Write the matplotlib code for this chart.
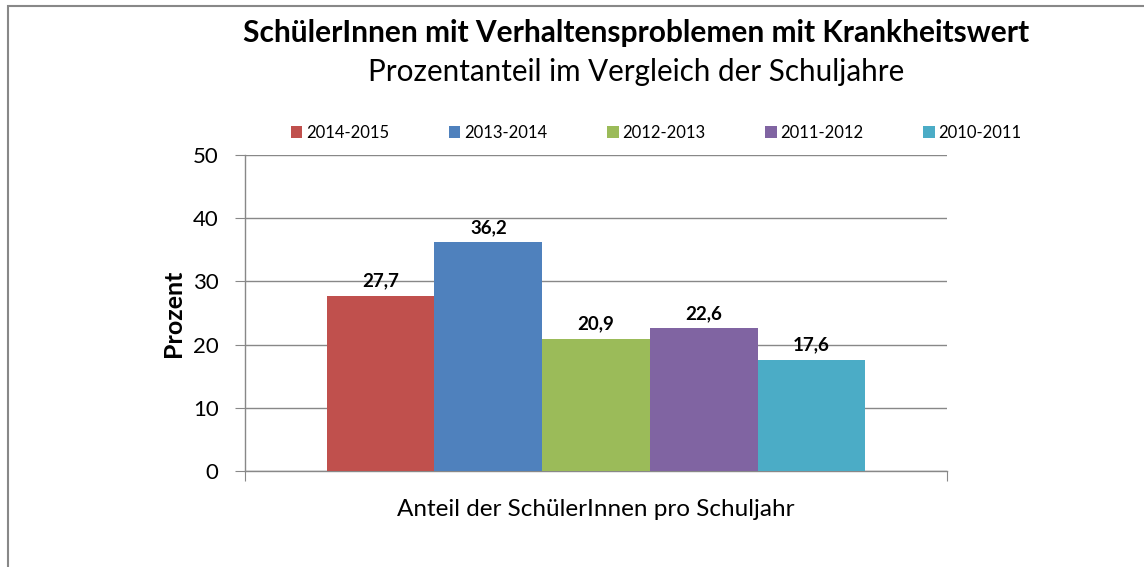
"""
Bar chart: SchülerInnen mit Verhaltensproblemen mit Krankheitswert.
"""

import matplotlib
matplotlib.use("Agg")
import matplotlib.pyplot as plt
from matplotlib.patches import Rectangle
import numpy as np

years = ["2014-2015", "2013-2014", "2012-2013", "2011-2012", "2010-2011"]
values = [27.7, 36.2, 20.9, 22.6, 17.6]
colors = ["#C0504D", "#4F81BD", "#9BBB59", "#8064A2", "#4BACC6"]
yticks = [0, 10, 20, 30, 40, 50]

plt.rcParams["font.family"] = ["Lato", "DejaVu Sans"]

fig = plt.figure(figsize=(11.44, 5.67), dpi=100)
fig.patches.append(Rectangle((8 / 1144, -0.1), 1.2, 1.1 - 6 / 567,
                             transform=fig.transFigure, fill=False,
                             edgecolor="#888888", linewidth=1.5))

ax = fig.add_axes([245 / 1144, 1 - 471 / 567, 702 / 1144, 316 / 567])

width = 0.767 / len(years)
offsets = (np.arange(len(years)) - (len(years) - 1) / 2) * width
for year, val, col, off in zip(years, values, colors, offsets):
    ax.bar(off, val, width=width, color=col, label=year, zorder=3)
    ax.text(off, val + 1.0, f"{val:.1f}".replace(".", ","), ha="center",
            va="bottom", fontsize=13.5, fontweight="bold", color="black")

ax.set_xlim(-0.5, 0.5)
ax.set_ylim(0, 50)
ax.set_yticks(yticks)
ax.tick_params(axis="y", labelsize=16, length=7, color="#888888", pad=12)
ax.set_xticks([-0.5, 0.5])
ax.set_xticklabels(["", ""])
ax.tick_params(axis="x", length=7, color="#888888")
ax.grid(axis="y", color="#888888", linewidth=1, zorder=0)
for side in ["top", "right"]:
    ax.spines[side].set_visible(False)
for side in ["left", "bottom"]:
    ax.spines[side].set_color("#888888")
    ax.spines[side].set_linewidth(1)

ax.set_ylabel("Prozent", fontsize=18, fontweight="bold", labelpad=6)
ax.set_xlabel("Anteil der SchülerInnen pro Schuljahr", fontsize=17.5,
              labelpad=10)

fig.text(636 / 1144, 1 - 33 / 567,
         "SchülerInnen mit Verhaltensproblemen mit Krankheitswert",
         ha="center", va="center", fontsize=21.5, fontweight="bold")
fig.text(636 / 1144, 1 - 72 / 567, "Prozentanteil im Vergleich der Schuljahre",
         ha="center", va="center", fontsize=21.3)

fig.legend(loc="center", bbox_to_anchor=(656 / 1144, 1 - 133 / 567), ncol=5,
           frameon=False, fontsize=12, handlelength=0.7, handleheight=0.7,
           handletextpad=0.2, columnspacing=3.6)

fig.savefig("out.png", dpi=100)
